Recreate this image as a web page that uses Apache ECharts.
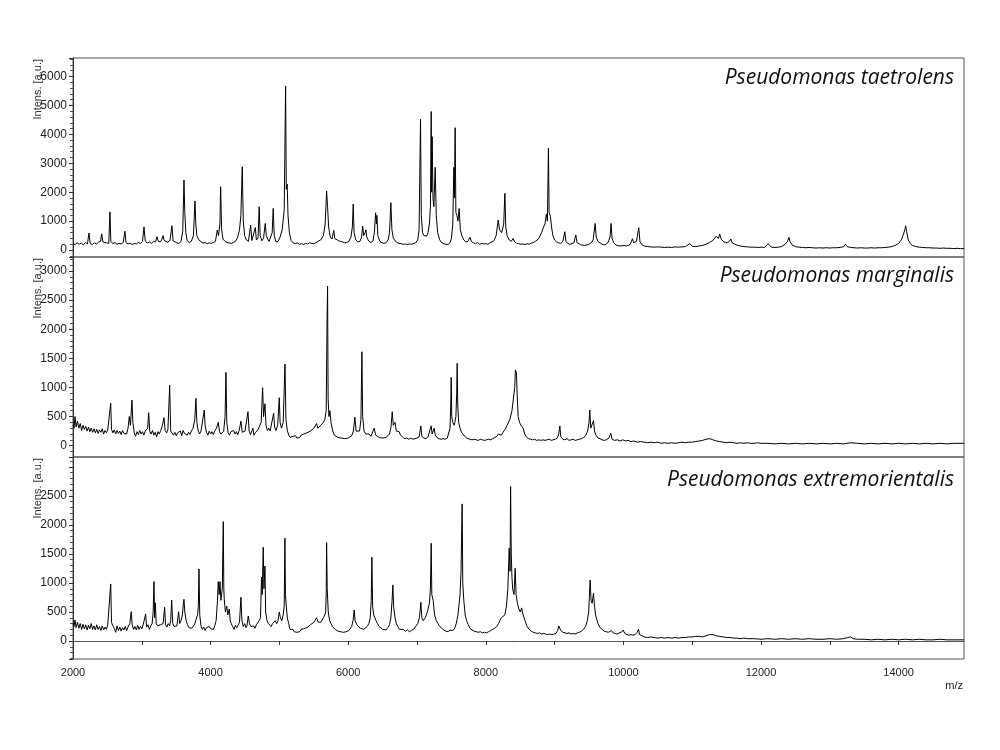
<!DOCTYPE html>
<html>
<head>
<meta charset="utf-8">
<title>MALDI-TOF spectra</title>
<script src="https://cdn.jsdelivr.net/npm/echarts@6.0.0/dist/echarts.min.js"></script>
<style>
    html, body { margin: 0; padding: 0; background: #fff; }
    #chart { width: 1000px; height: 750px; }
</style>
</head>
<body>
<div id="chart"></div>
<script type="text/javascript">
// 物种名称
var speciesNames = ['Pseudomonas taetrolens', 'Pseudomonas marginalis', 'Pseudomonas extremorientalis'];

// x 轴范围 (m/z)
var mzMin = 2000;
var mzMax = 14950;

// 每个面板的 y 轴范围
var yMins = [-240, -195, -310];
var yMaxs = [6640, 3240, 3170];

// 谱图数据 [m/z, intensity]
var taetrolens = [
[2000,230],[2030,190],[2060,250],[2090,200],[2120,240],[2150,180],[2180,260],[2210,210],[2232,590],[2250,230],[2280,190],[2310,250],[2340,210],[2370,270],[2400,300],[2417,560],[2435,280],[2460,220],[2490,250],[2520,230],[2537,1320],[2550,300],[2580,220],[2610,260],[2640,200],[2670,230],[2700,210],[2730,260],[2755,650],[2770,260],[2800,210],[2830,240],[2860,190],[2890,230],[2920,210],[2950,260],[2980,230],[3010,300],[3032,800],[3050,320],[3080,240],[3110,280],[3140,230],[3170,300],[3200,280],[3220,460],[3240,300],[3270,280],[3290,360],[3308,500],[3325,330],[3350,290],[3380,260],[3410,340],[3438,840],[3455,320],[3480,270],[3510,250],[3540,230],[3570,300],[3595,650],[3613,2420],[3625,1300],[3640,600],[3660,320],[3690,260],[3720,300],[3750,500],[3773,1700],[3785,900],[3800,500],[3830,350],[3860,290],[3890,240],[3920,260],[3950,220],[3980,250],[4010,230],[4040,260],[4070,300],[4097,690],[4115,500],[4135,900],[4146,2190],[4160,700],[4180,380],[4210,300],[4240,260],[4270,250],[4300,230],[4330,260],[4360,300],[4390,420],[4420,700],[4440,1200],[4460,2880],[4475,1000],[4495,500],[4520,350],[4550,300],[4582,865],[4600,330],[4625,280],[4650,780],[4665,350],[4690,420],[4706,1500],[4720,500],[4745,320],[4770,420],[4794,920],[4810,500],[4830,380],[4850,300],[4875,260],[4895,600],[4910,1440],[4925,500],[4950,280],[4980,300],[5010,450],[5040,700],[5070,1400],[5090,5675],[5100,2100],[5113,2280],[5125,1200],[5145,600],[5170,330],[5200,250],[5230,220],[5260,250],[5290,200],[5320,220],[5350,190],[5380,230],[5410,210],[5440,250],[5470,230],[5500,220],[5530,250],[5560,300],[5600,350],[5640,500],[5665,900],[5686,2040],[5700,1500],[5715,800],[5740,450],[5765,380],[5790,680],[5805,400],[5830,350],[5860,320],[5890,300],[5920,280],[5950,250],[5980,260],[6010,300],[6040,450],[6060,800],[6073,1590],[6085,600],[6110,350],[6140,280],[6170,300],[6195,450],[6210,830],[6225,500],[6245,600],[6257,700],[6270,450],[6300,300],[6330,260],[6360,320],[6380,600],[6398,1290],[6410,900],[6417,1200],[6430,500],[6460,300],[6490,250],[6520,230],[6550,250],[6580,350],[6600,600],[6620,1640],[6635,700],[6655,420],[6680,320],[6710,260],[6740,230],[6770,220],[6800,200],[6830,210],[6860,190],[6890,210],[6920,200],[6950,230],[6980,250],[7010,350],[7030,700],[7051,4520],[7062,1200],[7080,600],[7100,500],[7120,450],[7140,480],[7160,600],[7180,900],[7195,1500],[7206,4790],[7213,2000],[7220,3920],[7232,1800],[7245,1500],[7264,2860],[7280,1200],[7300,600],[7330,350],[7360,250],[7390,220],[7420,200],[7450,190],[7480,250],[7500,400],[7520,900],[7535,2860],[7544,1800],[7554,4230],[7565,1300],[7580,1200],[7595,1000],[7612,1440],[7630,700],[7650,500],[7680,350],[7710,280],[7740,300],[7770,450],[7790,300],[7820,250],[7850,220],[7880,260],[7910,200],[7940,230],[7970,210],[8000,220],[8030,200],[8060,250],[8090,280],[8120,330],[8150,500],[8180,1040],[8200,700],[8230,600],[8260,900],[8277,1960],[8290,800],[8310,500],[8340,350],[8370,300],[8397,400],[8420,280],[8450,230],[8480,220],[8510,200],[8540,210],[8570,190],[8600,220],[8630,200],[8660,240],[8690,260],[8720,300],[8750,350],[8780,450],[8810,600],[8840,800],[8860,900],[8880,1250],[8895,1000],[8910,3520],[8920,1300],[8940,1150],[8955,800],[8975,500],[9000,350],[9030,280],[9060,250],[9090,230],[9120,300],[9148,633],[9165,300],[9190,230],[9220,200],[9250,220],[9280,250],[9308,520],[9325,260],[9350,200],[9380,180],[9410,170],[9440,160],[9470,180],[9500,200],[9530,250],[9560,350],[9589,920],[9605,450],[9630,300],[9660,250],[9690,200],[9720,180],[9750,200],[9780,280],[9805,450],[9821,920],[9835,400],[9860,250],[9890,180],[9920,150],[9950,140],[9980,150],[10010,160],[10040,140],[10070,160],[10100,200],[10131,390],[10150,250],[10190,300],[10223,773],[10240,300],[10270,180],[10300,140],[10350,120],[10400,110],[10450,100],[10500,110],[10550,100],[10600,90],[10650,100],[10700,90],[10750,110],[10800,100],[10850,110],[10900,120],[10964,220],[11000,130],[11050,120],[11100,140],[11150,160],[11200,200],[11250,260],[11300,330],[11350,480],[11380,400],[11400,550],[11420,380],[11450,300],[11480,260],[11510,250],[11540,300],[11560,380],[11580,250],[11620,200],[11660,160],[11700,140],[11750,120],[11800,110],[11850,100],[11900,100],[11950,90],[12000,100],[12050,90],[12102,220],[12150,100],[12200,90],[12250,100],[12300,120],[12350,200],[12385,300],[12406,440],[12420,300],[12450,180],[12500,120],[12550,100],[12600,90],[12650,80],[12700,90],[12750,80],[12800,70],[12850,80],[12900,70],[12950,80],[13000,70],[13050,80],[13100,80],[13150,90],[13200,120],[13226,200],[13250,120],[13300,90],[13350,80],[13400,70],[13450,80],[13500,70],[13550,70],[13600,80],[13650,70],[13700,80],[13750,80],[13800,90],[13850,100],[13900,120],[13950,160],[14000,230],[14040,350],[14070,550],[14090,700],[14102,840],[14115,650],[14140,350],[14170,220],[14200,160],[14250,120],[14300,100],[14350,90],[14400,80],[14450,80],[14500,70],[14550,70],[14600,60],[14650,70],[14700,60],[14750,60],[14800,50],[14850,60],[14900,50],[14950,50]
];

var marginalis = [
[2000,350],[2015,300],[2029,500],[2045,320],[2065,420],[2085,300],[2105,380],[2125,260],[2145,350],[2165,280],[2185,330],[2205,250],[2225,320],[2245,240],[2265,300],[2285,230],[2305,290],[2325,220],[2345,280],[2365,210],[2385,270],[2405,230],[2425,290],[2445,200],[2465,260],[2485,220],[2505,270],[2530,250],[2548,727],[2560,280],[2580,220],[2600,270],[2620,200],[2640,260],[2660,210],[2680,250],[2700,190],[2720,260],[2740,210],[2760,240],[2780,200],[2800,300],[2818,500],[2835,350],[2857,784],[2870,400],[2890,220],[2910,160],[2930,240],[2950,190],[2970,260],[2990,200],[3010,240],[3030,180],[3050,250],[3070,220],[3085,300],[3100,566],[3115,250],[3135,200],[3155,260],[3175,180],[3195,230],[3215,150],[3235,240],[3255,200],[3275,260],[3300,350],[3322,480],[3340,260],[3360,220],[3380,280],[3405,1041],[3420,250],[3440,230],[3460,180],[3480,230],[3500,170],[3520,220],[3540,200],[3560,250],[3580,170],[3600,260],[3620,210],[3640,240],[3660,180],[3680,230],[3700,190],[3720,250],[3745,300],[3770,450],[3787,813],[3800,400],[3820,250],[3840,200],[3860,250],[3880,280],[3908,612],[3920,350],[3940,230],[3960,180],[3980,250],[4000,200],[4020,240],[4040,190],[4060,250],[4085,300],[4111,400],[4130,240],[4150,200],[4170,230],[4190,250],[4210,500],[4223,1258],[4235,400],[4255,220],[4275,180],[4295,240],[4315,210],[4335,260],[4355,200],[4375,240],[4395,190],[4415,260],[4441,420],[4460,230],[4480,200],[4500,250],[4520,220],[4543,583],[4560,250],[4580,190],[4600,220],[4615,300],[4630,180],[4650,220],[4670,200],[4690,280],[4710,250],[4735,400],[4756,995],[4770,500],[4790,720],[4805,350],[4825,260],[4845,300],[4865,250],[4890,280],[4916,555],[4930,320],[4950,260],[4975,350],[4998,823],[5010,400],[5030,300],[5055,400],[5081,1401],[5095,450],[5115,260],[5135,180],[5155,140],[5175,130],[5195,160],[5215,140],[5235,170],[5255,130],[5275,160],[5295,140],[5315,180],[5335,150],[5355,200],[5375,170],[5400,220],[5425,200],[5450,250],[5475,220],[5500,300],[5520,280],[5540,380],[5560,300],[5580,300],[5600,350],[5620,330],[5640,400],[5660,450],[5680,600],[5692,2100],[5700,2740],[5708,800],[5720,500],[5734,600],[5750,400],[5775,250],[5800,180],[5825,150],[5850,140],[5875,160],[5900,130],[5925,150],[5950,120],[5975,140],[6000,130],[6025,150],[6050,170],[6075,250],[6097,490],[6115,250],[6140,220],[6165,250],[6185,450],[6199,1612],[6210,500],[6230,250],[6255,200],[6280,180],[6305,200],[6330,160],[6355,180],[6378,300],[6400,180],[6425,150],[6450,140],[6475,150],[6500,130],[6525,150],[6550,140],[6575,170],[6600,200],[6620,300],[6640,583],[6655,350],[6680,400],[6700,250],[6720,220],[6740,240],[6760,180],[6790,150],[6820,120],[6850,130],[6880,110],[6910,130],[6940,110],[6970,120],[7000,130],[7030,150],[7056,338],[7070,160],[7100,130],[7130,120],[7160,150],[7185,180],[7206,340],[7220,200],[7250,300],[7265,180],[7290,140],[7320,120],[7350,110],[7380,120],[7410,110],[7440,130],[7460,160],[7480,300],[7490,700],[7497,1173],[7505,500],[7520,400],[7540,350],[7550,400],[7565,500],[7577,900],[7584,1413],[7592,700],[7605,400],[7625,300],[7650,220],[7680,180],[7710,140],[7740,120],[7770,110],[7800,100],[7830,110],[7860,100],[7890,90],[7920,110],[7950,100],[7980,90],[8010,100],[8040,110],[8070,100],[8100,120],[8130,140],[8160,160],[8185,200],[8204,220],[8225,180],[8250,230],[8280,280],[8310,350],[8350,450],[8380,600],[8400,800],[8420,1000],[8430,1300],[8436,1327],[8445,1250],[8455,900],[8470,500],[8490,400],[8510,350],[8543,300],[8565,200],[8590,150],[8620,120],[8650,110],[8680,100],[8710,110],[8740,90],[8770,100],[8800,90],[8830,100],[8860,90],[8890,100],[8920,110],[8950,90],[8980,100],[9010,110],[9040,130],[9060,200],[9076,338],[9090,150],[9120,110],[9150,100],[9180,120],[9210,90],[9240,100],[9270,110],[9300,90],[9330,100],[9360,110],[9390,120],[9420,140],[9450,170],[9480,250],[9500,400],[9511,612],[9525,300],[9545,280],[9565,430],[9580,250],[9600,180],[9630,130],[9660,120],[9690,100],[9720,90],[9750,100],[9790,130],[9816,212],[9835,110],[9870,90],[9910,100],[9950,80],[9990,100],[10030,80],[10070,90],[10110,70],[10150,80],[10200,60],[10250,70],[10300,60],[10350,50],[10400,60],[10450,50],[10500,60],[10550,40],[10600,50],[10650,40],[10700,50],[10750,40],[10800,50],[10850,60],[10900,50],[10950,60],[11000,60],[11050,70],[11100,80],[11150,90],[11200,110],[11255,120],[11300,100],[11350,80],[11400,70],[11450,60],[11500,50],[11550,60],[11600,50],[11650,40],[11700,50],[11750,40],[11800,50],[11850,40],[11900,40],[11950,50],[12000,40],[12100,40],[12200,30],[12300,40],[12400,30],[12500,40],[12600,30],[12700,40],[12800,30],[12900,40],[13000,30],[13100,40],[13200,30],[13300,50],[13400,40],[13500,30],[13600,40],[13700,30],[13800,40],[13900,30],[14000,40],[14100,30],[14200,40],[14300,30],[14400,40],[14500,30],[14600,40],[14700,30],[14800,40],[14950,40]
];

var extremorientalis = [
[2000,300],[2015,250],[2029,362],[2045,230],[2065,320],[2085,220],[2105,300],[2125,200],[2145,290],[2165,210],[2185,280],[2205,190],[2225,270],[2245,210],[2265,300],[2285,200],[2305,260],[2325,190],[2345,280],[2365,200],[2385,250],[2405,180],[2425,260],[2445,190],[2465,240],[2485,200],[2505,280],[2530,300],[2548,983],[2560,320],[2580,260],[2600,220],[2620,150],[2640,260],[2660,180],[2680,240],[2700,170],[2720,230],[2740,190],[2760,250],[2780,180],[2800,240],[2825,300],[2847,505],[2860,280],[2880,200],[2900,250],[2920,190],[2940,270],[2960,200],[2980,250],[3000,210],[3020,280],[3040,300],[3056,466],[3070,240],[3090,280],[3110,200],[3130,260],[3150,300],[3165,500],[3177,1023],[3186,400],[3196,660],[3210,300],[3230,260],[3250,230],[3270,280],[3290,250],[3310,300],[3332,580],[3345,280],[3365,240],[3385,300],[3405,260],[3420,350],[3434,707],[3450,300],[3470,250],[3490,280],[3510,260],[3535,505],[3550,300],[3570,350],[3590,450],[3605,650],[3613,718],[3625,500],[3645,350],[3665,280],[3685,230],[3705,260],[3725,220],[3745,250],[3765,280],[3790,300],[3810,450],[3822,600],[3831,1241],[3842,450],[3860,260],[3880,200],[3900,240],[3920,180],[3940,230],[3960,200],[3980,250],[4000,210],[4020,240],[4040,200],[4060,260],[4080,350],[4100,700],[4111,1023],[4125,800],[4136,1023],[4150,700],[4170,900],[4184,2057],[4192,900],[4198,720],[4215,500],[4235,600],[4250,450],[4271,550],[4285,350],[4300,300],[4320,250],[4340,200],[4360,270],[4380,230],[4400,260],[4420,320],[4441,753],[4455,350],[4475,250],[4495,300],[4515,230],[4530,270],[4547,430],[4565,300],[4585,250],[4605,220],[4625,260],[4645,220],[4665,280],[4685,300],[4705,350],[4725,400],[4740,1100],[4750,800],[4765,1615],[4775,900],[4790,1290],[4800,500],[4820,350],[4840,300],[4860,280],[4880,250],[4900,300],[4920,280],[4940,350],[4960,300],[4980,350],[4998,500],[5015,400],[5035,350],[5055,450],[5070,600],[5080,1770],[5088,800],[5100,600],[5115,400],[5135,300],[5155,200],[5175,170],[5195,200],[5215,160],[5235,190],[5255,150],[5275,180],[5295,160],[5315,200],[5335,170],[5355,210],[5375,190],[5400,230],[5425,250],[5450,280],[5475,300],[5500,320],[5520,350],[5540,400],[5560,330],[5580,300],[5600,320],[5620,350],[5640,400],[5660,450],[5672,500],[5680,800],[5686,1695],[5695,900],[5710,500],[5730,350],[5750,300],[5770,250],[5790,280],[5810,200],[5830,220],[5850,170],[5870,190],[5890,160],[5910,180],[5930,150],[5950,170],[5970,160],[5990,190],[6010,180],[6030,200],[6050,250],[6070,350],[6087,534],[6100,350],[6125,280],[6150,250],[6175,220],[6200,240],[6225,200],[6250,230],[6275,250],[6300,300],[6320,400],[6335,700],[6344,1443],[6355,600],[6370,450],[6388,480],[6405,350],[6425,300],[6450,250],[6475,230],[6500,200],[6525,220],[6550,190],[6575,230],[6600,280],[6620,400],[6638,700],[6649,966],[6660,600],[6680,400],[6700,300],[6720,250],[6745,200],[6770,180],[6800,200],[6830,170],[6860,190],[6890,160],[6920,180],[6950,200],[6980,250],[7010,300],[7035,400],[7056,667],[7070,400],[7090,350],[7120,400],[7150,500],[7180,650],[7195,900],[7206,1684],[7215,800],[7235,700],[7255,450],[7280,350],[7305,300],[7330,250],[7360,220],[7390,190],[7420,170],[7450,160],[7480,190],[7510,180],[7540,200],[7570,300],[7595,450],[7608,600],[7625,800],[7640,1200],[7647,1730],[7656,2362],[7665,1000],[7680,700],[7700,450],[7720,350],[7745,280],[7770,220],[7800,190],[7830,170],[7860,160],[7890,150],[7920,160],[7950,140],[7980,150],[8010,140],[8040,160],[8070,180],[8100,200],[8130,220],[8160,250],[8185,300],[8204,350],[8225,400],[8250,430],[8277,450],[8300,600],[8320,900],[8340,1600],[8352,1200],[8360,2660],[8370,1500],[8380,1100],[8390,900],[8410,800],[8426,1253],[8440,800],[8460,650],[8480,550],[8500,500],[8520,570],[8535,480],[8550,450],[8570,350],[8600,250],[8630,200],[8660,170],[8690,150],[8720,140],[8750,130],[8780,140],[8810,120],[8840,130],[8870,120],[8900,110],[8930,120],[8960,110],[8990,120],[9020,130],[9045,180],[9060,260],[9076,260],[9090,180],[9120,150],[9150,140],[9180,130],[9210,140],[9240,120],[9270,130],[9300,120],[9330,140],[9360,150],[9390,170],[9420,200],[9450,250],[9475,350],[9495,500],[9505,750],[9516,1051],[9530,700],[9545,650],[9565,822],[9580,600],[9595,450],[9610,450],[9630,300],[9660,230],[9690,200],[9720,170],[9750,160],[9780,150],[9805,160],[9826,180],[9850,140],[9880,130],[9910,120],[9940,140],[9970,150],[9995,190],[10020,130],[10050,110],[10080,100],[10110,110],[10140,100],[10170,110],[10200,150],[10218,201],[10235,110],[10260,80],[10300,70],[10350,60],[10400,70],[10450,60],[10500,50],[10550,60],[10600,50],[10650,60],[10700,50],[10750,60],[10800,50],[10850,60],[10900,60],[10950,70],[11000,70],[11050,80],[11110,80],[11150,70],[11200,90],[11250,110],[11303,110],[11350,90],[11400,80],[11450,70],[11500,60],[11550,60],[11600,50],[11650,50],[11700,40],[11750,50],[11800,40],[11900,40],[12000,30],[12100,40],[12200,30],[12300,40],[12400,30],[12500,40],[12600,30],[12700,40],[12800,30],[12900,30],[13000,40],[13100,30],[13200,40],[13260,60],[13300,70],[13340,40],[13400,30],[13500,30],[13600,20],[13700,30],[13800,20],[13900,30],[14000,20],[14100,30],[14200,20],[14300,30],[14400,20],[14500,20],[14600,30],[14700,20],[14800,20],[14950,20]
];

var spectra = [taetrolens, marginalis, extremorientalis];

var myChart = echarts.init(document.getElementById('chart'), null, {renderer: 'canvas'});

// 面板位置
var panelTops = [58, 257, 457];
var panelHeights = [199, 200, 202];
var textColor = '#222';
var borderColor = '#555';

var grids = [], xAxes = [], yAxes = [], series = [], graphics = [];

for (var i = 0; i < 3; i++) {
    grids.push({
        left: 73,
        right: 36,
        top: panelTops[i],
        height: panelHeights[i],
        show: true,
        borderColor: borderColor,
        borderWidth: 1,
        backgroundColor: 'transparent',
        containLabel: false,
        outerBoundsMode: 'none'
    });

    var isBottom = (i === 2);
    xAxes.push({
        type: 'value',
        gridIndex: i,
        min: mzMin,
        max: mzMax,
        interval: 1000,
        show: isBottom,
        axisLine: {show: true, lineStyle: {color: borderColor, width: 1}},
        axisTick: {show: true, length: 4, lineStyle: {color: '#333'}},
        splitLine: {show: false},
        axisLabel: {
            show: isBottom,
            margin: 8,
            color: textColor,
            fontFamily: 'Liberation Sans, Arial, sans-serif',
            fontSize: 11,
            showMinLabel: true,
            showMaxLabel: false,
            formatter: function (v) { return v % 2000 === 0 ? String(v) : ''; }
        }
    });

    yAxes.push({
        type: 'value',
        gridIndex: i,
        min: yMins[i],
        max: yMaxs[i],
        splitNumber: 7,
        axisLine: {show: true, lineStyle: {color: '#333', width: 1}},
        axisTick: {show: true, length: 4, lineStyle: {color: '#333'}},
        minorTick: {show: true, splitNumber: 5, length: 3, lineStyle: {color: '#555'}},
        splitLine: {show: false},
        axisLabel: {
            margin: 6,
            color: textColor,
            fontFamily: 'Liberation Sans, Arial, sans-serif',
            fontSize: 12,
            showMinLabel: false,
            showMaxLabel: false,
            formatter: (function (idx) {
                return function (v) {
                    if (v < 0) return '';
                    if (idx === 2 && v >= 3000) return '';
                    return String(v);
                };
            })(i)
        }
    });

    series.push({
        type: 'line',
        xAxisIndex: i,
        yAxisIndex: i,
        data: spectra[i],
        symbol: 'none',
        showSymbol: false,
        lineStyle: {color: '#000', width: 1},
        silent: true,
        animation: false
    });

    // y 轴名称
    graphics.push({
        type: 'text',
        x: 38,
        y: panelTops[i] + 1,
        rotation: Math.PI / 2,
        style: {
            text: 'Intens. [a.u.]',
            fill: '#333',
            font: '11px "Liberation Sans", Arial, sans-serif',
            align: 'right',
            verticalAlign: 'middle'
        }
    });
}

// 物种标签
var labelCenters = [78, 276, 480];
for (var k = 0; k < 3; k++) {
    graphics.push({
        type: 'text',
        x: 954,
        y: labelCenters[k],
        style: {
            text: speciesNames[k],
            fill: '#111',
            font: 'italic 21px "Open Sans", "Noto Sans", sans-serif',
            align: 'right',
            verticalAlign: 'middle'
        }
    });
}

// x 轴名称
graphics.push({
    type: 'text',
    x: 963,
    y: 686,
    style: {
        text: 'm/z',
        fill: textColor,
        font: '11px "Liberation Sans", Arial, sans-serif',
        align: 'right',
        verticalAlign: 'middle'
    }
});

var option = {
    backgroundColor: '#fff',
    animation: false,
    grid: grids,
    xAxis: xAxes,
    yAxis: yAxes,
    series: series,
    graphic: graphics
};

myChart.setOption(option);
</script>
</body>
</html>
